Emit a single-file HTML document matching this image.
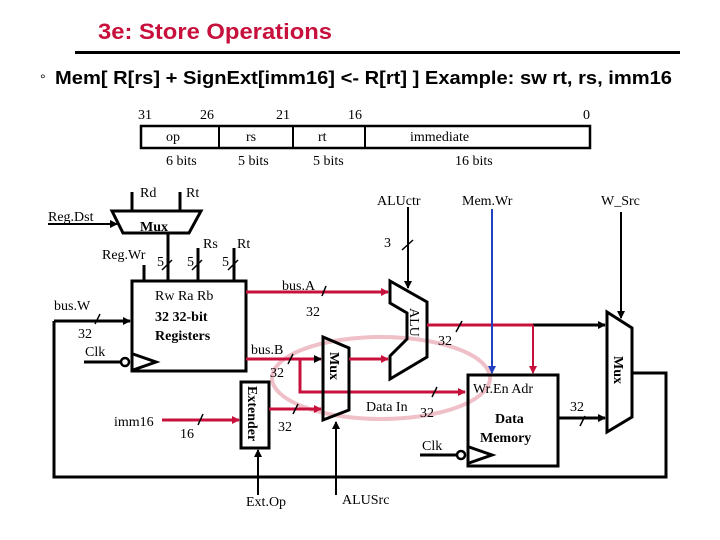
<!DOCTYPE html>
<html><head><meta charset="utf-8"><style>
html,body{margin:0;padding:0;background:#fff;}
svg{display:block;}
.s{font-family:"Liberation Serif",serif;font-size:14px;fill:#000;}
.b{font-family:"Liberation Serif",serif;font-size:14px;font-weight:bold;fill:#000;}
.k{stroke:#000;stroke-width:3;fill:none;}
.r{stroke:#c8103c;stroke-width:3;fill:none;}
.t{stroke:#000;stroke-width:1.5;}
</style></head><body>
<svg width="720" height="540" viewBox="0 0 720 540" xmlns="http://www.w3.org/2000/svg">
<defs>
<marker id="ak" markerWidth="8" markerHeight="8" refX="7" refY="4" orient="auto" markerUnits="userSpaceOnUse"><path d="M0,0 L8,4 L0,8 z" fill="#000"/></marker>
<marker id="ar" markerWidth="8" markerHeight="8" refX="7" refY="4" orient="auto" markerUnits="userSpaceOnUse"><path d="M0,0 L8,4 L0,8 z" fill="#c8103c"/></marker>
<marker id="ab" markerWidth="8" markerHeight="8" refX="7" refY="4" orient="auto" markerUnits="userSpaceOnUse"><path d="M0,0 L8,4 L0,8 z" fill="#2040c0"/></marker>
</defs>
<text x="98" y="39" font-family="Liberation Sans,sans-serif" font-size="22" font-weight="bold" fill="#c8103c" textLength="234" lengthAdjust="spacingAndGlyphs">3e: Store Operations</text>
<rect x="75" y="51" width="605" height="3" fill="#000"/>
<text x="40" y="84" font-family="Liberation Sans,sans-serif" font-size="14" fill="#000">°</text>
<text x="55" y="84" font-family="Liberation Sans,sans-serif" font-size="18" font-weight="bold" fill="#000" textLength="617" lengthAdjust="spacingAndGlyphs">Mem[ R[rs] + SignExt[imm16] &lt;- R[rt] ]  Example: sw rt, rs, imm16</text>
<g class="s">
<text x="138" y="119">31</text><text x="200" y="119">26</text><text x="276" y="119">21</text><text x="348" y="119">16</text><text x="583" y="119">0</text>
<text x="166" y="141">op</text><text x="246" y="141">rs</text><text x="318" y="141">rt</text><text x="410" y="141">immediate</text>
<text x="166" y="165">6 bits</text><text x="238" y="165">5 bits</text><text x="313" y="165">5 bits</text><text x="455" y="165">16 bits</text>
</g>
<rect x="141" y="126" width="449" height="22" class="k" style="stroke-width:2.5"/>
<path d="M219,126V148M293,126V148M365,126V148" class="k" style="stroke-width:2"/>
<ellipse cx="381" cy="378" rx="109" ry="41" fill="none" stroke="#f0c0c8" stroke-width="4"/>
<path d="M112,211H201L189,233H123Z" class="k"/>
<path d="M132,192V211M180,192V211" class="k"/>
<path d="M48,224H117" class="k" style="stroke-width:2" marker-end="url(#ak)"/>
<text x="140" y="231" class="b">Mux</text>
<text x="140" y="197" class="s">Rd</text><text x="186" y="197" class="s">Rt</text>
<text x="48" y="221" class="s">Reg.Dst</text>
<rect x="132" y="281" width="114" height="90" class="k"/>
<path d="M168,233V281M198,248V281M234,248V281M144,265V281" class="k"/>
<path d="M162,270l10,-10M192,270l10,-10M228,270l10,-10" class="t"/>
<text x="102" y="259" class="s">Reg.Wr</text><text x="157" y="266" class="s">5</text><text x="187" y="266" class="s">5</text><text x="222" y="266" class="s">5</text>
<text x="203" y="248" class="s">Rs</text><text x="237" y="248" class="s">Rt</text>
<text x="155" y="300" class="s">Rw   Ra   Rb</text>
<text x="155" y="321" class="b">32 32-bit</text><text x="155" y="340" class="b">Registers</text>
<path d="M133,354L156,362L133,370" class="k"/>
<circle cx="125" cy="362" r="4" class="k" style="stroke-width:2.5" fill="#fff"/>
<path d="M84,362H121" class="k"/>
<text x="85" y="356" class="s">Clk</text>
<path d="M54,321H130" class="k" marker-end="url(#ak)"/>
<path d="M54,321V477H666V373H632" class="k"/>
<path d="M95,324l5,-10" class="t"/>
<text x="54" y="310" class="s">bus.W</text><text x="78" y="338" class="s">32</text>
<path d="M246,292H388" class="r" marker-end="url(#ar)"/>
<path d="M322,296l4,-10" class="t"/>
<text x="282" y="290" class="s">bus.A</text><text x="306" y="316" class="s">32</text>
<path d="M246,359H321" class="k" style="stroke:#c8103c" marker-end="url(#ak)"/>
<path d="M300,359V392H465" class="r" marker-end="url(#ar)"/>
<path d="M288,364l5,-10" class="t"/>
<text x="251" y="354" class="s">bus.B</text><text x="270" y="377" class="s">32</text>
<path d="M432,397l5,-10" class="t"/>
<text x="366" y="411" class="s">Data In</text><text x="420" y="417" class="s">32</text>
<path d="M323,337L349,348V410L323,420Z" class="k"/>
<text transform="translate(330,352) rotate(90)" class="b">Mux</text>
<path d="M349,359H388" class="r" marker-end="url(#ar)"/>
<path d="M336,495V422" class="k" style="stroke-width:2" marker-end="url(#ak)"/>
<text x="342" y="504" class="s">ALUSrc</text>
<rect x="241" y="382" width="28" height="66" class="k"/>
<text transform="translate(248,386) rotate(90)" class="b">Extender</text>
<path d="M162,420H239" class="r" marker-end="url(#ar)"/>
<path d="M198,425l5,-11" class="t"/>
<text x="114" y="426" class="s">imm16</text><text x="180" y="438" class="s">16</text>
<path d="M269,409H321" class="r" marker-end="url(#ar)"/>
<path d="M293,414l5,-10" class="t"/>
<text x="278" y="431" class="s">32</text>
<path d="M258,495V450" class="k" style="stroke-width:2" marker-end="url(#ak)"/>
<text x="246" y="506" class="s">Ext.Op</text>
<path d="M390,281L427,302V357L390,379V356L407,339V313L390,303Z" class="k"/>
<text transform="translate(410,308) rotate(90)" class="s">ALU</text>
<path d="M408,207V288" class="k" style="stroke-width:2" marker-end="url(#ak)"/>
<path d="M402,250l11,-10" class="t"/>
<text x="377" y="205" class="s">ALUctr</text><text x="384" y="247" class="s">3</text>
<path d="M427,325H533" class="r"/>
<path d="M533,325H605" class="k" marker-end="url(#ak)"/>
<path d="M533,325V373" class="r" style="stroke-width:2" marker-end="url(#ar)"/>
<path d="M456,332l6,-11" class="t"/>
<text x="438" y="345" class="s">32</text>
<path d="M492,209V373" stroke="#2040c0" stroke-width="2" fill="none" marker-end="url(#ab)"/>
<text x="462" y="205" class="s">Mem.Wr</text>
<rect x="468" y="375" width="90" height="91" class="k"/>
<text x="473" y="393" class="s">Wr.En   Adr</text>
<text x="495" y="423" class="b">Data</text><text x="480" y="442" class="b">Memory</text>
<path d="M469,447L492,455L469,463" class="k"/>
<circle cx="461" cy="455" r="4" class="k" style="stroke-width:2.5" fill="#fff"/>
<path d="M420,455H457" class="k"/>
<text x="422" y="450" class="s">Clk</text>
<path d="M558,418H605" class="k" marker-end="url(#ak)"/>
<path d="M580,426l5,-10" class="t"/>
<text x="570" y="411" class="s">32</text>
<path d="M607,312L632,328V417L607,432Z" class="k"/>
<text transform="translate(614,356) rotate(90)" class="b">Mux</text>
<path d="M621,212V318" class="k" style="stroke-width:2" marker-end="url(#ak)"/>
<text x="601" y="205" class="s">W_Src</text>
</svg>
</body></html>
